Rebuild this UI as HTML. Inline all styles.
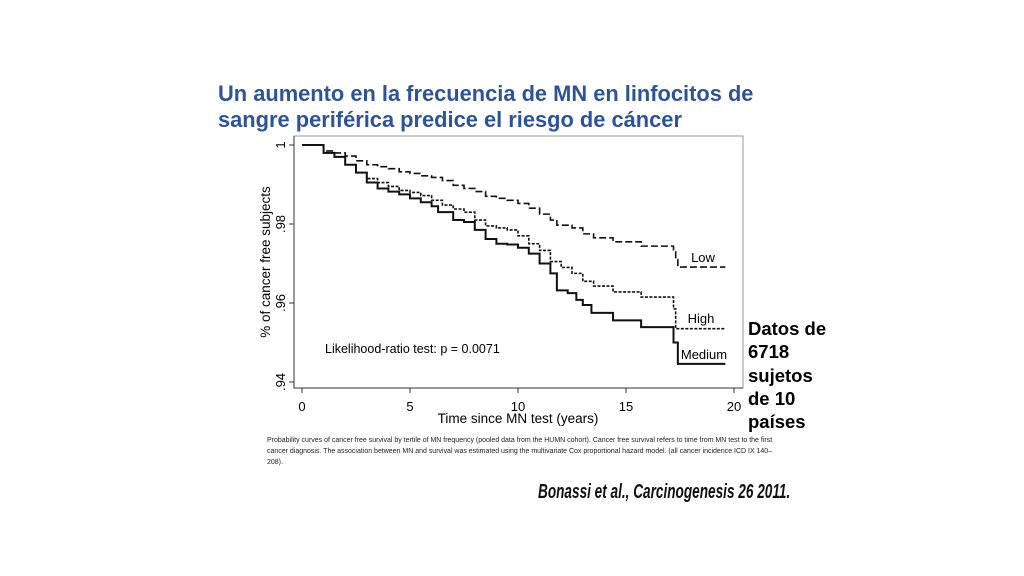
<!DOCTYPE html>
<html><head><meta charset="utf-8"><style>
body{margin:0;width:1024px;height:576px;background:#fff;position:relative;overflow:hidden;font-family:"Liberation Sans",sans-serif}
.t{position:absolute;white-space:nowrap}
</style></head><body>
<div class="t" style="left:218px;top:81px;color:#2f5496;font-weight:bold;font-size:22.3px;line-height:26px;transform:scaleX(0.98);transform-origin:left">Un aumento en la frecuencia de MN en linfocitos de<br>sangre periférica predice el riesgo de cáncer</div>
<div class="t" style="left:748px;top:317px;font-weight:bold;font-size:18.5px;line-height:23.3px">Datos de<br>6718<br>sujetos<br>de 10<br>países</div>
<div class="t" style="left:267px;top:434px;font-size:7.6px;line-height:11px;color:#222;font-family:'Liberation Sans Narrow','Liberation Sans',sans-serif;transform:scaleX(0.92);transform-origin:left">Probability curves of cancer free survival by tertile of MN frequency (pooled data from the HUMN cohort). Cancer free survival refers to time from MN test to the first<br>cancer diagnosis. The association between MN and survival was estimated using the multivariate Cox proportional hazard model. (all cancer incidence ICD IX 140–<br>208).</div>
<div class="t" style="left:538px;top:481px;font-size:20px;font-style:italic;font-weight:bold;font-family:'Liberation Sans Narrow','Liberation Sans',sans-serif;transform:scaleX(0.68);transform-origin:left;color:#111">Bonassi et al., Carcinogenesis 26 2011.</div>
<svg id="chart" width="1024" height="576" style="position:absolute;left:0;top:0" font-family="Liberation Sans, sans-serif"></svg>
<script>
const xTicks=[0,5,10,15,20];
const yTicks=[0.94,0.96,0.98,1];
const yTickLabels=[".94",".96",".98","1"];
const lowT=[0,1,1.5,2,2.5,3,3.5,4,4.5,5,5.5,6,6.5,7,7.5,8,8.5,9,9.5,10,10.5,11,11.5,11.8,12.5,13,13.5,14.4,15.7,17.2,17.3,17.4,19.6];
const lowS=[1,0.9985,0.998,0.9972,0.996,0.995,0.9945,0.994,0.9932,0.9928,0.9922,0.9918,0.991,0.9898,0.989,0.9882,0.987,0.9865,0.986,0.9852,0.984,0.9825,0.981,0.9797,0.979,0.9775,0.9765,0.9755,0.9744,0.973,0.971,0.9691,0.9691];
const highT=[0,1,1.5,2,2.5,3,3.5,4,4.5,5,5.5,6,6.5,7,7.5,8,8.5,9,9.5,10,10.5,11,11.5,12,12.5,13,13.5,14.4,15.7,17.2,17.3,19.6];
const highS=[1,0.998,0.997,0.995,0.993,0.9915,0.9905,0.9895,0.9885,0.988,0.9872,0.986,0.9848,0.9838,0.983,0.981,0.9795,0.979,0.9785,0.977,0.975,0.9733,0.9705,0.969,0.9675,0.9655,0.9643,0.9628,0.9615,0.9585,0.9535,0.9535];
const medT=[0,1,1.5,2,2.5,3,3.5,4,4.5,5,5.5,6,6.3,7,7.5,8,8.5,9,9.5,10,10.5,11,11.5,11.8,12.3,12.7,13,13.4,14.4,15.7,17.2,17.4,19.6];
const medS=[1,0.998,0.997,0.995,0.993,0.9905,0.989,0.9882,0.9875,0.9865,0.9855,0.9845,0.983,0.981,0.9805,0.9785,0.9762,0.975,0.9748,0.974,0.9725,0.970,0.9675,0.9632,0.9625,0.9608,0.9595,0.9575,0.9556,0.9539,0.950,0.9446,0.9446];
const svg=document.getElementById('chart');const NS='http://www.w3.org/2000/svg';
const X=t=>302+t*21.6, Y=s=>145+(1-s)*3950;
function mk(tag,a){const e=document.createElementNS(NS,tag);for(const k in a)e.setAttribute(k,a[k]);svg.appendChild(e);return e;}
const frame=mk('rect',{x:294,y:136,width:449,height:252,fill:'none',stroke:'#999','stroke-width':1});

const ax=mk('path',{d:`M294 136V388H743`,fill:'none',stroke:'#333','stroke-width':1});

xTicks.forEach(v=>{const l=mk('line',{x1:X(v),x2:X(v),y1:388,y2:393,stroke:'#333'});
const t=mk('text',{x:X(v),y:411,'text-anchor':'middle','font-size':13});t.textContent=v;});
yTicks.forEach((v,i)=>{const l=mk('line',{x1:289,x2:294,y1:Y(v),y2:Y(v),stroke:'#333'});
const t=mk('text',{x:0,y:0,'text-anchor':'middle','font-size':13,transform:`translate(285 ${Y(v)}) rotate(-90)`});t.textContent=yTickLabels[i];});
const xt=mk('text',{x:518,y:423,'text-anchor':'middle','font-size':13.5});xt.textContent='Time since MN test (years)';
const yt=mk('text',{x:0,y:0,'text-anchor':'middle','font-size':13.5,transform:'translate(270 262) rotate(-90)'});yt.textContent='% of cancer free subjects';
function step(T,S){let d=`M${X(T[0])} ${Y(S[0])}`;for(let i=1;i<T.length;i++){d+=`H${X(T[i])}V${Y(S[i])}`;}return d;}
const series=[[lowT,lowS,'7 3','low-curve'],[highT,highS,'3 1.5','high-curve'],[medT,medS,'','medium-curve']];
series.forEach(s=>{const p=mk('path',{d:step(s[0],s[1]),fill:'none',stroke:'#111','stroke-width':s[3]=='medium-curve'?2:1.6,'stroke-dasharray':s[2]});});
[['Low',703,262,'label-low'],['High',701,323,'label-high'],['Medium',704,359,'label-medium']].forEach(a=>{const t=mk('text',{x:a[1],y:a[2],'text-anchor':'middle','font-size':13});t.textContent=a[0];});
const lr=mk('text',{x:325,y:353,'font-size':12.5});lr.textContent='Likelihood-ratio test: p = 0.0071';
</script>
</body></html>
